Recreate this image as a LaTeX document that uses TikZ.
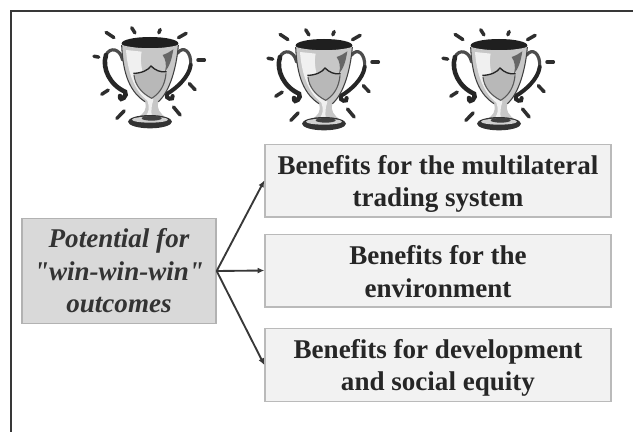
\documentclass[tikz,border=0pt]{standalone}
\usepackage{fontspec}
\newfontfamily\plainserif{Liberation Serif}
\newcommand{\liftby}[1]{\rule{0pt}{#1pt}}
\tikzset{
  x=0.75pt,y=-0.75pt,
  framer/.style={draw=black!78,line width=1.5pt},
  rbox/.style={draw=black!27,line width=1pt,fill=black!5,minimum width=259.5pt,minimum height=54.5pt,inner sep=0pt,align=center,text=black!85,font=\plainserif\fontsize{20.3}{24.4}\selectfont\bfseries},
  lbox/.style={draw=black!30,line width=1pt,fill=black!15,minimum width=145.5pt,minimum height=79pt,inner sep=0pt,align=center,text=black!80,font=\plainserif\fontsize{20.3}{24.4}\selectfont\bfseries\itshape},
  conn/.style={draw=black!78,line width=1.4pt,-{Latex[length=5pt,width=4.5pt]}},
  ray/.style={draw=black!82,line width=2.6pt,line cap=round,shorten >=1pt,shorten <=1pt},
  trophy/.pic={
    \begin{scope}[scale=1/3]
      % rays
      \draw[ray] (105,65)--(135,85);
      \draw[ray] (183,50)--(197,72);
      \draw[ray] (272,55)--(265,72);
      \draw[ray] (352,68)--(322,85);
      \draw[ray] (68,138)--(90,142);
      \draw[ray] (380,150)--(407,150);
      \draw[ray] (355,218)--(378,242);
      \draw[ray] (118,238)--(92,255);
      \draw[ray] (165,300)--(138,328);
      \draw[ray] (308,288)--(333,318);
      % handles
      \draw[draw=black!70,line width=2.4pt,line cap=round]
        (158,150) .. controls (150,115) and (120,110) .. (108,135);
      \draw[draw=black!85,line width=3.4pt,line cap=round]
        (108,135) .. controls (95,175) and (120,225) .. (165,245)
        .. controls (175,255) and (150,280) .. (150,258);
      \draw[draw=black!70,line width=2.4pt,line cap=round]
        (322,130) .. controls (340,105) and (365,125) .. (362,165);
      \draw[draw=black!85,line width=3pt,line cap=round]
        (362,165) .. controls (358,200) and (320,235) .. (290,252)
        .. controls (285,268) and (312,272) .. (308,258);
      % body and stem
      \fill[black!22]
        (155,105) .. controls (158,170) and (170,240) .. (225,275)
        .. controls (232,300) and (222,310) .. (200,325)
        -- (290,325)
        .. controls (270,310) and (258,295) .. (265,275)
        .. controls (300,245) and (320,170) .. (325,105) -- cycle;
      \fill[black!6]
        (168,120) .. controls (172,170) and (185,235) .. (232,272)
        .. controls (240,295) and (236,305) .. (228,318)
        -- (245,318) .. controls (243,300) and (245,285) .. (250,270)
        .. controls (230,230) and (205,170) .. (215,125) -- cycle;
      \fill[black!60] (278,135) .. controls (292,130) and (300,125) .. (310,118)
        .. controls (305,150) and (298,170) .. (285,185)
        .. controls (290,165) and (288,150) .. (278,135) -- cycle;
      \draw[black!75,line width=0.8pt]
        (155,105) .. controls (158,170) and (170,240) .. (225,275);
      \draw[black!75,line width=0.8pt]
        (325,105) .. controls (320,170) and (300,245) .. (265,275);
      % rim
      \fill[black!88] (240,100) ellipse [x radius=85,y radius=19];
      \fill[black!22] (155,105) .. controls (200,118) and (280,118) .. (325,105)
        .. controls (300,128) and (190,128) .. (155,105) -- cycle;
      % shield
      \fill[black!28]
        (190,190) .. controls (215,190) and (235,180) .. (243,168)
        .. controls (255,180) and (270,188) .. (290,185)
        .. controls (292,220) and (270,250) .. (245,265)
        .. controls (215,250) and (195,225) .. (190,190) -- cycle;
      \draw[black!85,line width=1pt]
        (190,190) .. controls (215,190) and (235,180) .. (243,168)
        .. controls (255,180) and (270,188) .. (290,185);
      \draw[black!65,line width=0.8pt]
        (192,195) .. controls (195,225) and (215,250) .. (245,265)
        .. controls (270,250) and (285,225) .. (288,190);
      % base
      \fill[black!80] (240,335) ellipse [x radius=66,y radius=20];
      \fill[black!18] (240,329) ellipse [x radius=54,y radius=9];
      \fill[black!75] (245,325) ellipse [x radius=30,y radius=7];
    \end{scope}
  }
}
\usetikzlibrary{arrows.meta}
\begin{document}
\begin{tikzpicture}
  \useasboundingbox (0,0) rectangle (633,432);
  \fill[white] (0,0) rectangle (633,432);
  \draw[framer] (11,432) -- (11,11) -- (633,11);
  \pic at (70,10) {trophy};
  \pic at (244,12) {trophy};
  \pic at (419,12) {trophy};
  \node[lbox] (src) at (119,271) {Potential for\\"win-win-win"\\outcomes};
  \node[rbox] (a) at (438,180.5) {\liftby{19.2}Benefits for the multilateral\\trading system};
  \node[rbox] (b) at (438,270.5) {\liftby{16.2}Benefits for the\\environment};
  \node[rbox] (c) at (438,365) {\liftby{18.5}Benefits for development\\and social equity};
  \draw[conn] (src.east) -- (a.west);
  \draw[conn] (src.east) -- (b.west);
  \draw[conn] (src.east) -- (c.west);
\end{tikzpicture}
\end{document}
